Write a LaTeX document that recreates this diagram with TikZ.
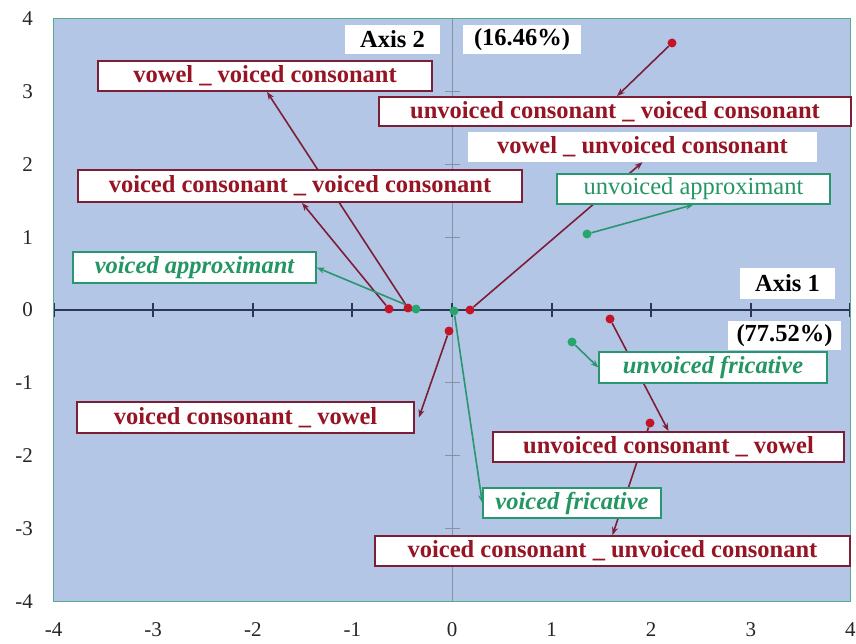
\documentclass[tikz,border=0pt]{standalone}
\usepackage{fontspec}
\setmainfont{Liberation Serif}
\usetikzlibrary{arrows.meta}
\definecolor{plotbg}{RGB}{180,198,230}
\definecolor{plotframe}{RGB}{90,170,140}
\definecolor{axisc}{RGB}{45,55,85}
\definecolor{vaxis}{RGB}{135,145,165}
\definecolor{redtxt}{RGB}{150,20,35}
\definecolor{redline}{RGB}{125,30,55}
\definecolor{reddot}{RGB}{195,20,40}
\definecolor{grntxt}{RGB}{35,150,100}
\definecolor{grnline}{RGB}{40,150,110}
\definecolor{grndot}{RGB}{40,165,110}
\pgfdeclarelayer{bg}
\pgfdeclarelayer{lines}
\pgfsetlayers{bg,lines,main}
\tikzset{
  lbl/.style={fill=white, inner sep=0pt, font=\fontsize{24.5}{28}\selectfont\bfseries},
  redbox/.style={lbl, draw=redline, line width=1.8pt, text=redtxt},
  grnbox/.style={lbl, draw=grnline, line width=1.3pt, text=grntxt},
  plainbox/.style={lbl, text=black},
  sz/.style 2 args={minimum width=#1pt, minimum height=#2pt},
  dotr/.style={circle, fill=reddot, inner sep=0pt, minimum size=9pt},
  dotg/.style={circle, fill=grndot, inner sep=0pt, minimum size=9pt},
  rarrow/.style={draw=redline, line width=1.6pt, -{Stealth[length=8pt,width=6pt]}},
  garrow/.style={draw=grnline, line width=1.6pt, -{Stealth[length=8pt,width=6pt]}},
  ticklbl/.style={font=\fontsize{21}{24}\selectfont, text=black!85, inner sep=0pt}
}
\begin{document}
\begin{tikzpicture}[x=1pt,y=-1pt]
\useasboundingbox (0,0) rectangle (856,644);
\begin{pgfonlayer}{bg}
  \fill[white] (0,0) rectangle (856,644);
  \fill[plotbg] (53.6,18.4) rectangle (850.4,601.6);
  \draw[vaxis, line width=1pt] (452,18.4) -- (452,601.6);
  \foreach \v in {-4,...,4}
    \draw[vaxis, line width=1pt] (445,{310-72.9*\v}) -- (460,{310-72.9*\v});
  \draw[axisc, line width=2.5pt] (53.6,310) -- (850.4,310);
  \foreach \v in {-4,...,4}
    \draw[axisc, line width=2pt] ({452+99.6*\v},303) -- ({452+99.6*\v},317);
  \draw[plotframe, line width=1.5pt] (53.6,18.4) rectangle (850.4,601.6);
\end{pgfonlayer}
% tick labels
\foreach \v in {-4,...,4} {
  \node[ticklbl, anchor=east] (yl\v) at (33,{310-72.9*\v}) {\v};
  \node[ticklbl] (xl\v) at ({452+99.6*\v},630) {\v};
}
% label boxes
\node[plainbox, sz={95}{29}] (axis2) at (392.5,39.5) {Axis 2};
\node[plainbox, sz={118}{29}] (pct2) at (522,39.5) {(16.46\%)};
\node[redbox, sz={334}{30}] (vvc) at (265,76) {vowel \_ voiced consonant};
\node[redbox, sz={472}{29}] (uvc) at (615,111.5) {unvoiced consonant \_ voiced consonant};
\node[plainbox, text=redtxt, sz={349}{30}] (vuc) at (642.5,147) {vowel \_ unvoiced consonant};
\node[redbox, sz={444}{32}] (vcvc) at (300,186) {voiced consonant \_ voiced consonant};
\node[grnbox, font=\fontsize{24.5}{28}\selectfont\mdseries, sz={273}{30}] (ua) at (693.5,189) {unvoiced approximant};
\node[grnbox, font=\fontsize{24.5}{28}\selectfont\bfseries\itshape, sz={243}{31}] (va) at (194.5,267.5) {voiced approximant};
\node[plainbox, sz={95}{31}] (axis1) at (787.5,283.5) {Axis 1};
\node[plainbox, sz={113}{29}] (pct1) at (784.5,335.5) {(77.52\%)};
\node[grnbox, font=\fontsize{24.5}{28}\selectfont\bfseries\itshape, sz={228}{31}] (uf) at (713,367.5) {unvoiced fricative};
\node[redbox, sz={337}{31}] (vcv) at (245.5,417.5) {voiced consonant \_ vowel};
\node[redbox, sz={351}{30}] (ucv) at (668.5,447) {unvoiced consonant \_ vowel};
\node[grnbox, font=\fontsize{24.5}{28}\selectfont\bfseries\itshape, sz={178}{30}] (vf) at (572,503) {voiced fricative};
\node[redbox, sz={475}{30}] (vcuc) at (612.5,551) {voiced consonant \_ unvoiced consonant};
% points
\node[dotr] (r1) at (672,43) {};
\node[dotr] (r2) at (470,310) {};
\node[dotr] (r3) at (389,309) {};
\node[dotr] (r4) at (408,308) {};
\node[dotr] (r5) at (449,331) {};
\node[dotr] (r6) at (610,319) {};
\node[dotr] (r7) at (650,423) {};
\node[dotg] (g1) at (587,234) {};
\node[dotg] (g2) at (416,309) {};
\node[dotg] (g3) at (454,311) {};
\node[dotg] (g4) at (572,342) {};
% connectors
\begin{pgfonlayer}{lines}
  \draw[rarrow] (r1) -- ([xshift=2pt]uvc.north);
  \draw[rarrow] (r2) -- (vuc.south);
  \draw[rarrow] (r3) -- ([xshift=2pt]vcvc.south);
  \draw[rarrow] (r4) -- ([xshift=2pt]vvc.south);
  \draw[rarrow] (r5) -- ([xshift=4pt]vcv.east);
  \draw[rarrow] (r6) -- (ucv.north);
  \draw[rarrow] (r7) -- (vcuc.north);
  \draw[garrow] (g1) -- (ua.south);
  \draw[garrow] (g2) -- (va.east);
  \draw[garrow] (g3) -- (vf.west);
  \draw[garrow] (g4) -- (uf.west);
\end{pgfonlayer}
\end{tikzpicture}
\end{document}
